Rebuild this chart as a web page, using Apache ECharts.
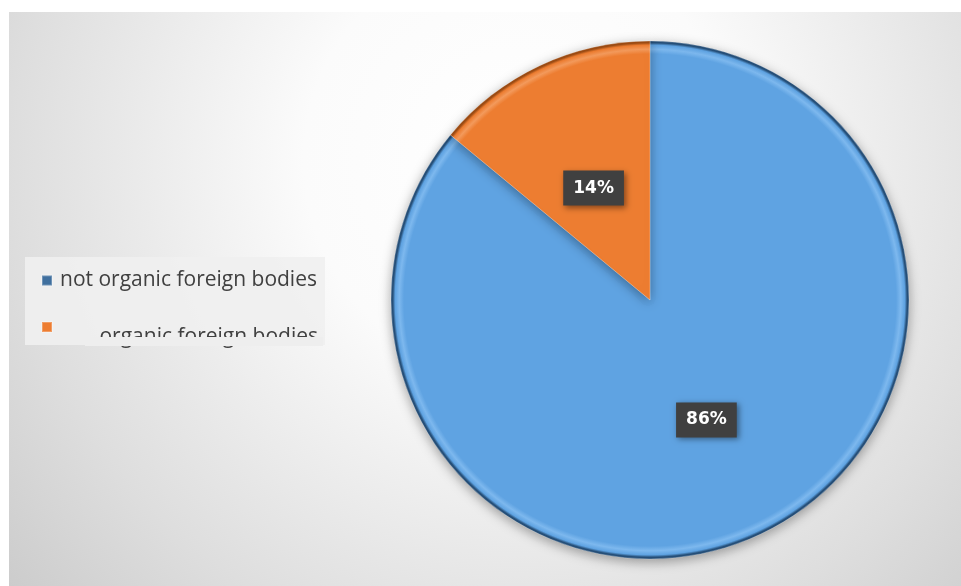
<!DOCTYPE html>
<html>
<head>
<meta charset="utf-8">
<script src="https://cdn.jsdelivr.net/npm/echarts@6/dist/echarts.min.js"></script>
<style>
html,body{margin:0;padding:0;background:#fff;}
#c{width:961px;height:586px;}
</style>
</head>
<body>
<div id="c"></div>
<script>
var categories = ['not organic foreign bodies', 'organic foreign bodies'];
var values = [86, 14];
var sliceColors = ['#5fa3e2', '#ed7d31'];

var CX = 650, CY = 300, R = 259;

function bevel(base, light, dark) {
  return new echarts.graphic.RadialGradient(CX, CY, R, [
    {offset: 0, color: base},
    {offset: 0.95, color: base},
    {offset: 0.968, color: light},
    {offset: 0.984, color: base},
    {offset: 0.993, color: dark},
    {offset: 1, color: dark}
  ], true);
}
var fills = [
  bevel(sliceColors[0], '#7db8ee', '#264f78'),
  bevel(sliceColors[1], '#f39a5c', '#9c4c14')
];
var labelOffsets = [[0, 0], [0, 8]];

var chart = echarts.init(document.getElementById('c'), null, {renderer: 'canvas'});
chart.setOption({
  animation: false,
  backgroundColor: '#ffffff',
  graphic: [
    {
      type: 'rect', z: -10, silent: true,
      shape: {x: 9, y: 12, width: 952, height: 574},
      style: {
        fill: new echarts.graphic.RadialGradient(520, 160, 720, [
          {offset: 0, color: '#ffffff'},
          {offset: 0.3, color: '#fbfbfb'},
          {offset: 0.7, color: '#dedede'},
          {offset: 1, color: '#c6c6c6'}
        ], true)
      }
    },
    {
      type: 'rect', z: -5, silent: true,
      shape: {x: 25, y: 257, width: 300, height: 88},
      style: {fill: 'rgba(240,240,240,0.9)'}
    },
    {
      type: 'rect', zlevel: 1, z: 100, silent: true,
      shape: {x: 85, y: 337, width: 238, height: 9},
      style: {fill: '#eeeeee'}
    }
  ],
  legend: {
    orient: 'vertical',
    left: 36,
    top: 265,
    icon: 'rect',
    itemWidth: 10,
    itemHeight: 10,
    itemGap: 15,
    data: [
      {name: categories[0], itemStyle: {color: '#3f6f9e'}},
      {name: categories[1], itemStyle: {color: '#ed7d31'}}
    ],
    textStyle: {
      fontFamily: 'Open Sans',
      fontSize: 21,
      color: '#404040',
      lineHeight: 20,
      rich: {
        a: {fontFamily: 'Open Sans', fontSize: 21, color: '#404040', width: 258, align: 'left', lineHeight: 20, padding: [0, 0, 0, 3]},
        b: {fontFamily: 'Open Sans', fontSize: 21, color: '#404040', width: 258, align: 'right', lineHeight: 20, padding: [21, 0, 0, 3]}
      }
    },
    formatter: function (name) {
      return name === categories[0] ? '{a|' + name + '}' : '{b|' + name + '}';
    }
  },
  series: [{
    type: 'pie',
    center: [CX, CY],
    radius: [0, R],
    startAngle: 90,
    clockwise: true,
    avoidLabelOverlap: false,
    data: categories.map(function (c, i) {
      return {name: c, value: values[i], itemStyle: {color: fills[i]}, label: {offset: labelOffsets[i]}};
    }),
    itemStyle: {
      borderColor: 'rgba(255,255,255,0.25)',
      borderWidth: 1,
      shadowBlur: 12,
      shadowColor: 'rgba(0,0,0,0.35)',
      shadowOffsetY: 3
    },
    label: {
      show: true,
      position: 'inside',
      formatter: '{d}%',
      color: '#ffffff',
      fontFamily: 'DejaVu Sans',
      fontWeight: 'bold',
      fontSize: 17,
      backgroundColor: '#404040',
      padding: [10, 10, 8, 10],
      shadowBlur: 6,
      shadowColor: 'rgba(0,0,0,0.45)',
      shadowOffsetX: 2,
      shadowOffsetY: 2
    },
    labelLine: {show: false}
  }]
});
</script>
</body>
</html>
